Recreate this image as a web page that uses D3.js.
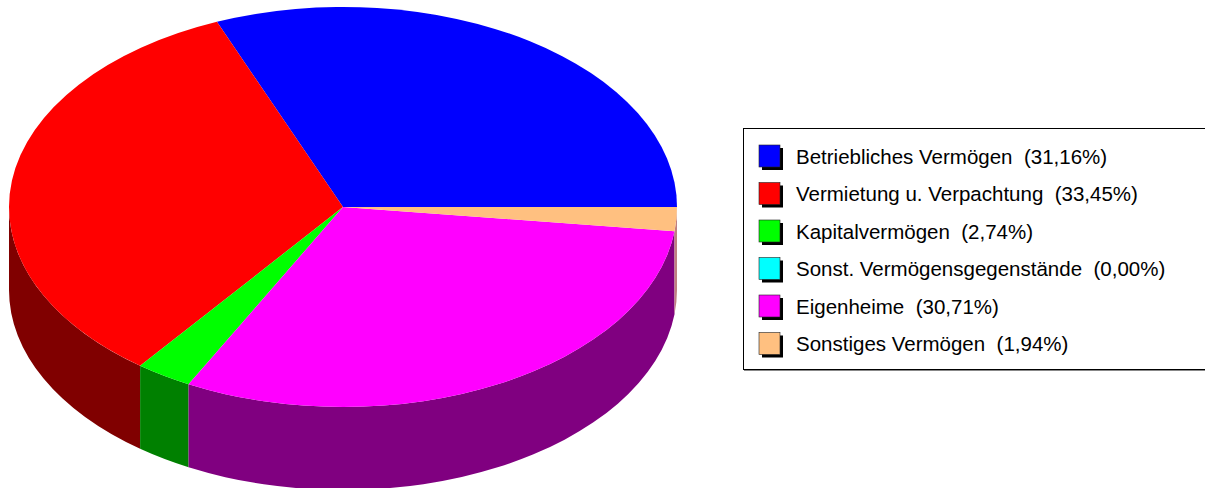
<!DOCTYPE html>
<html>
<head>
<meta charset="utf-8">
<script src="https://cdn.jsdelivr.net/npm/d3@7"></script>
<style>
  html, body { margin: 0; padding: 0; background: #fff; }
  svg { display: block; }
  text { font-family: "Liberation Sans", Arial, sans-serif; white-space: pre; }
</style>
</head>
<body>
<div id="chart"></div>
<script>
const categories = [
  'Betriebliches Vermögen',
  'Vermietung u. Verpachtung',
  'Kapitalvermögen',
  'Sonst. Vermögensgegenstände',
  'Eigenheime',
  'Sonstiges Vermögen'
];
const values = [31.16, 33.45, 2.74, 0.00, 30.71, 1.94];
const topColors = ['#0000ff', '#ff0000', '#00ff00', '#00ffff', '#ff00ff', '#ffc080'];
const sideColors = ['#000080', '#800000', '#008000', '#008080', '#800080', '#c08080'];

const width = 1205;
const height = 488;
const cx = 343, cy = 207;
const rx = 334, ry = 200;
const depth = 83;

const svg = d3.select('#chart').append('svg')
  .attr('width', width)
  .attr('height', height);

// pie angles, counter-clockwise from 3 o'clock
const pie = d3.pie().sort(null).startAngle(0).endAngle(2 * Math.PI);
const slices = pie(values).map((d, i) => ({ a0: d.startAngle, a1: d.endAngle, i: i }));

const px = a => cx + rx * Math.cos(a);
const py = a => cy - ry * Math.sin(a);

// front walls (lower half of ellipse)
const sides = svg.append('g');
slices.forEach(s => {
  const b0 = Math.max(s.a0, Math.PI);
  const b1 = Math.min(s.a1, 2 * Math.PI);
  if (b1 <= b0) return;
  const d = `M${px(b0)},${py(b0)} A${rx},${ry} 0 0 0 ${px(b1)},${py(b1)}` +
    ` L${px(b1)},${py(b1) + depth} A${rx},${ry} 0 0 1 ${px(b0)},${py(b0) + depth} Z`;
  sides.append('path')
    .attr('d', d)
    .attr('fill', sideColors[s.i]);
});

// top faces
const tops = svg.append('g');
slices.forEach(s => {
  if (s.a1 - s.a0 <= 0) return;
  const large = (s.a1 - s.a0) > Math.PI ? 1 : 0;
  tops.append('path')
    .attr('d', `M${cx},${cy} L${px(s.a0)},${py(s.a0)} A${rx},${ry} 0 ${large} 0 ${px(s.a1)},${py(s.a1)} Z`)
    .attr('fill', topColors[s.i]);
});

// legend
const legend = svg.append('g');
legend.append('rect')
  .attr('x', 743.5).attr('y', 128.5)
  .attr('width', 480).attr('height', 241)
  .attr('fill', '#fff')
  .attr('stroke', '#000')
  .attr('stroke-width', 1);
legend.append('line')
  .attr('x1', 744).attr('x2', 1205)
  .attr('y1', 370.5).attr('y2', 370.5)
  .attr('stroke', '#888');

const rowY = d3.scaleLinear().domain([0, 1]).range([145, 182.5]);
const fmt = v => v.toFixed(2).replace('.', ',');

categories.forEach((c, i) => {
  const y = rowY(i);
  legend.append('rect')
    .attr('x', 762).attr('y', y + 3)
    .attr('width', 21).attr('height', 22)
    .attr('fill', '#000');
  legend.append('rect')
    .attr('x', 759).attr('y', y)
    .attr('width', 21).attr('height', 22)
    .attr('fill', topColors[i])
    .attr('stroke', '#222')
    .attr('stroke-width', 0.6);
  legend.append('text')
    .attr('x', 796).attr('y', y + 18.5)
    .attr('font-size', 20.5)
    .attr('fill', '#000')
    .text(`${c}  (${fmt(values[i])}%)`);
});
</script>
</body>
</html>
